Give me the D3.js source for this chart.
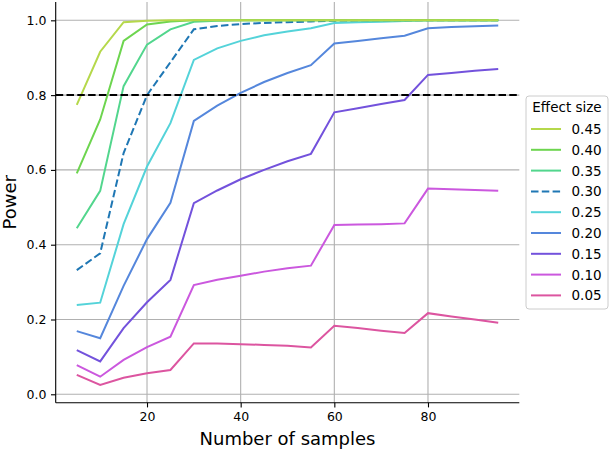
<!DOCTYPE html>
<html>
<head>
<meta charset="utf-8">
<script src="https://cdn.jsdelivr.net/npm/d3@7"></script>
<style>
  body { margin: 0; background: #fff; }
  text { font-family: "DejaVu Sans", sans-serif; fill: #000; }
</style>
</head>
<body>
<div id="chart"></div>
<script>
// data
var samples = [5, 10, 15, 20, 25, 30, 35, 40, 45, 50, 55, 60, 65, 70, 75, 80, 85, 90, 95];
var effectSizes = ["0.45", "0.40", "0.35", "0.30", "0.25", "0.20", "0.15", "0.10", "0.05"];
var p045 = [0.774, 0.916, 0.995, 0.999, 1, 1, 1, 1, 1, 1, 1, 1, 1, 1, 1, 1, 1, 1, 1];
var p040 = [0.591, 0.735, 0.945, 0.989, 0.997, 1, 1, 1, 1, 1, 1, 1, 1, 1, 1, 1, 1, 1, 1];
var p035 = [0.444, 0.544, 0.824, 0.935, 0.976, 0.996, 0.999, 1, 1, 1, 1, 1, 1, 1, 1, 1, 1, 1, 1];
var p030 = [0.332, 0.377, 0.645, 0.800, 0.888, 0.976, 0.985, 0.990, 0.993, 0.995, 0.997, 0.999, 1, 1, 1, 1, 1, 1, 1];
var p025 = [0.239, 0.245, 0.455, 0.609, 0.725, 0.894, 0.925, 0.945, 0.960, 0.970, 0.979, 0.993, 0.995, 0.996, 0.998, 1, 1, 1, 1];
var p020 = [0.169, 0.150, 0.290, 0.415, 0.512, 0.731, 0.772, 0.806, 0.835, 0.859, 0.880, 0.938, 0.945, 0.952, 0.959, 0.979, 0.982, 0.984, 0.986];
var p015 = [0.118, 0.088, 0.177, 0.246, 0.306, 0.511, 0.545, 0.575, 0.600, 0.623, 0.643, 0.754, 0.765, 0.776, 0.787, 0.854, 0.859, 0.865, 0.870];
var p010 = [0.078, 0.047, 0.092, 0.126, 0.154, 0.292, 0.306, 0.317, 0.328, 0.337, 0.344, 0.453, 0.454, 0.455, 0.457, 0.550, 0.548, 0.546, 0.544];
var p005 = [0.052, 0.025, 0.044, 0.056, 0.065, 0.136, 0.136, 0.134, 0.132, 0.130, 0.125, 0.183, 0.177, 0.170, 0.164, 0.217, 0.208, 0.200, 0.191];
var powerSeries = [p045, p040, p035, p030, p025, p020, p015, p010, p005];
var xTicks = [20, 40, 60, 80];
var yTicks = [0, 0.2, 0.4, 0.6, 0.8, 1.0];
var threshold = 0.8;

var colors = ["#b5d84b", "#6dd54f", "#52d68d", "#1f77b4", "#54d3d9", "#5587dc", "#7352dc", "#cb58de", "#dc55a0"];

var svgWidth = 610;
var svgHeight = 450;
var margin = { top: 2, bottom: 47.3, left: 55.7, right: 90.7 };
var width = svgWidth - margin.left - margin.right;
var height = svgHeight - margin.top - margin.bottom;

var svg = d3.select("#chart")
    .append("svg")
    .attr("width", svgWidth)
    .attr("height", svgHeight);

var chartGroup = svg.append("g")
    .attr("transform", `translate(${margin.left}, ${margin.top})`);

// scales with matplotlib-like 5% padding
var xscale = d3.scaleLinear().domain([0.5, 99.5]).range([0, width]);
var yscale = d3.scaleLinear().domain([-0.0225, 1.049]).range([height, 0]);

// grid
chartGroup.append("g")
    .selectAll("line.gx").data(xTicks).enter().append("line")
    .attr("x1", d => xscale(d)).attr("x2", d => xscale(d))
    .attr("y1", 0).attr("y2", height)
    .attr("stroke", "#b0b0b0").attr("stroke-width", 1.1);
chartGroup.append("g")
    .selectAll("line.gy").data(yTicks).enter().append("line")
    .attr("x1", 0).attr("x2", width)
    .attr("y1", d => yscale(d)).attr("y2", d => yscale(d))
    .attr("stroke", "#b0b0b0").attr("stroke-width", 1.1);

// power lines, smallest effect first so the top ones sit on top
var line = d3.line()
    .x((d, i) => xscale(samples[i]))
    .y(d => yscale(d));

for (var k = powerSeries.length - 1; k >= 0; k--) {
    chartGroup.append("path")
        .datum(powerSeries[k])
        .attr("d", line)
        .attr("fill", "none")
        .attr("stroke", colors[k])
        .attr("stroke-width", 2)
        .attr("stroke-dasharray", effectSizes[k] === "0.30" ? "7.5,3.3" : null);
}

// 0.8 reference line
chartGroup.append("line")
    .attr("x1", 0).attr("x2", width)
    .attr("y1", yscale(threshold)).attr("y2", yscale(threshold))
    .attr("stroke", "#000").attr("stroke-width", 2)
    .attr("stroke-dasharray", "7.5,3.3");

// axes
var bottomAxis = d3.axisBottom(xscale).tickValues(xTicks).tickSize(4.7).tickPadding(5).tickFormat(d3.format("d"));
var leftAxis = d3.axisLeft(yscale).tickValues(yTicks).tickSize(4.7).tickPadding(4.5).tickFormat(d3.format(".1f"));

var xAxisG = chartGroup.append("g").attr("transform", `translate(0,${height})`).call(bottomAxis);
var yAxisG = chartGroup.append("g").call(leftAxis);

[xAxisG, yAxisG].forEach(function(g) {
    g.select(".domain").attr("stroke", "#000").attr("stroke-width", 1.1);
    g.selectAll(".tick line").attr("stroke", "#000").attr("stroke-width", 1.1);
    g.selectAll(".tick text").attr("font-size", "12.5px").attr("font-family", "DejaVu Sans").attr("fill", "#000");
});
// only keep left and bottom spines, without the end caps
xAxisG.select(".domain").attr("d", `M0,0H${width}`);
yAxisG.select(".domain").attr("d", `M0,0V${height}`);

// axis labels
svg.append("text")
    .attr("x", margin.left + width / 2)
    .attr("y", 445)
    .attr("text-anchor", "middle")
    .attr("font-size", "18px")
    .text("Number of samples");

svg.append("text")
    .attr("transform", `translate(16, ${margin.top + height / 2}) rotate(-90)`)
    .attr("text-anchor", "middle")
    .attr("font-size", "18px")
    .text("Power");

// legend
var legend = svg.append("g").attr("transform", "translate(526, 96)");
legend.append("rect")
    .attr("x", 0).attr("y", 0)
    .attr("width", 82).attr("height", 213)
    .attr("rx", 3)
    .attr("fill", "#fff").attr("fill-opacity", 0.8)
    .attr("stroke", "#cccccc").attr("stroke-width", 1);
legend.append("text")
    .attr("x", 41).attr("y", 16)
    .attr("text-anchor", "middle")
    .attr("font-size", "13.5px")
    .text("Effect size");

var items = legend.selectAll("g.item").data(effectSizes).enter().append("g")
    .attr("transform", (d, i) => `translate(0, ${33 + i * 20.8})`);
items.append("line")
    .attr("x1", 5).attr("x2", 35)
    .attr("y1", 0).attr("y2", 0)
    .attr("stroke", (d, i) => colors[i])
    .attr("stroke-width", 2)
    .attr("stroke-dasharray", d => d === "0.30" ? "7.5,3.3" : null);
items.append("text")
    .attr("x", 45.5).attr("y", 5)
    .attr("font-size", "13.5px")
    .text(d => d);
</script>
</body>
</html>
